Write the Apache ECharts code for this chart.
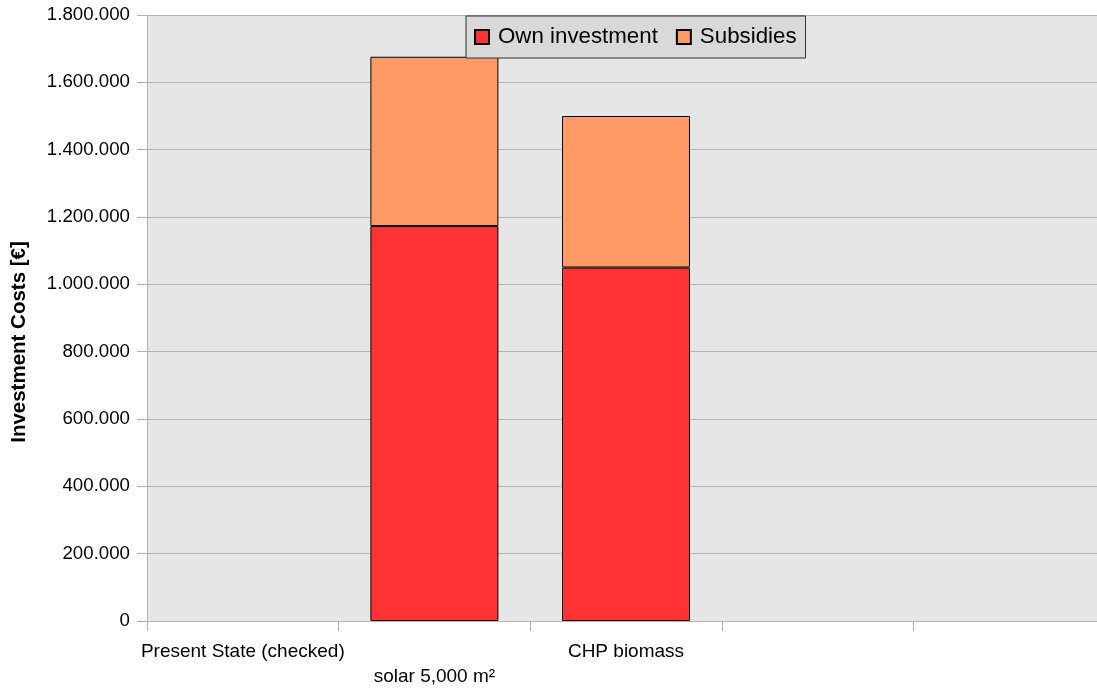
<!DOCTYPE html>
<html>
<head>
<meta charset="utf-8">
<script src="https://cdn.jsdelivr.net/npm/echarts@6/dist/echarts.min.js"></script>
<style>
  html, body { margin: 0; padding: 0; background: #ffffff; overflow: hidden; }
  /* the plot runs a few pixels past the right edge of the page */
  #chart { width: 1105px; height: 689px; }
</style>
</head>
<body>
<div id="chart"></div>
<script>
// Investment cost scenarios, split into own investment and subsidies (EUR)
const categories = ['Present State (checked)', 'solar 5,000 m\u00b2', 'CHP biomass', '', ''];
const ownInvestment = [null, 1173000, 1050000, null, null];
const subsidies = [null, 503000, 450000, null, null];
const yTicks = { min: 0, max: 1800000, interval: 200000 };

const FONT = '"Liberation Sans", Arial, sans-serif';

// 1234567 -> "1.234.567"
function dotted(v) {
  return String(Math.round(v)).replace(/\B(?=(\d{3})+(?!\d))/g, '.');
}

const chart = echarts.init(document.getElementById('chart'), null, { renderer: 'canvas' });

chart.setOption({
  animation: false,
  backgroundColor: '#ffffff',
  textStyle: { fontFamily: FONT },
  grid: {
    left: 147, top: 15, right: 0, bottom: 67,
    show: true, backgroundColor: '#e6e6e6', borderWidth: 0,
    containLabel: false
  },
  legend: {
    left: 466, top: 16,
    padding: [10, 9, 10, 8],
    itemGap: 18,
    itemWidth: 14, itemHeight: 14,
    icon: 'rect',
    backgroundColor: '#d9d9d9',
    borderColor: '#333333', borderWidth: 1,
    borderRadius: 0,
    textStyle: { fontFamily: FONT, fontSize: 22.3, color: '#000000', padding: [0, 0, 0, 4] },
    data: ['Own investment', 'Subsidies']
  },
  xAxis: {
    type: 'category',
    data: categories,
    boundaryGap: true,
    axisLine: { lineStyle: { color: '#b3b3b3', width: 1 } },
    axisTick: { show: true, interval: 0, length: 10, lineStyle: { color: '#b3b3b3' } },
    axisLabel: {
      interval: 0,
      margin: 18,
      fontFamily: FONT, fontSize: 19, color: '#000000', lineHeight: 25,
      formatter: (value, index) => (index % 2 === 1 ? '\n' + value : value)
    },
    splitLine: { show: false }
  },
  yAxis: {
    type: 'value',
    min: yTicks.min, max: yTicks.max, interval: yTicks.interval,
    name: 'Investment Costs [\u20ac]',
    nameLocation: 'middle',
    nameGap: 117,
    nameRotate: 90,
    nameTextStyle: { fontFamily: FONT, fontSize: 20.5, fontWeight: 'bold', color: '#000000', padding: [0, 48, 0, 0] },
    axisLine: { show: true, lineStyle: { color: '#b3b3b3', width: 1 } },
    axisTick: { show: true, length: 10, lineStyle: { color: '#b3b3b3' } },
    axisLabel: { margin: 17, fontFamily: FONT, fontSize: 18.7, color: '#000000', formatter: dotted },
    splitLine: { show: true, lineStyle: { color: '#b3b3b3', width: 1 } }
  },
  series: [
    {
      name: 'Own investment',
      type: 'bar',
      stack: 'cost',
      barWidth: 128,
      data: ownInvestment,
      itemStyle: { color: '#ff3333', borderColor: '#000000', borderWidth: 1 }
    },
    {
      name: 'Subsidies',
      type: 'bar',
      stack: 'cost',
      barWidth: 128,
      data: subsidies,
      itemStyle: { color: '#ff9966', borderColor: '#000000', borderWidth: 1 }
    }
  ]
});
</script>
</body>
</html>
